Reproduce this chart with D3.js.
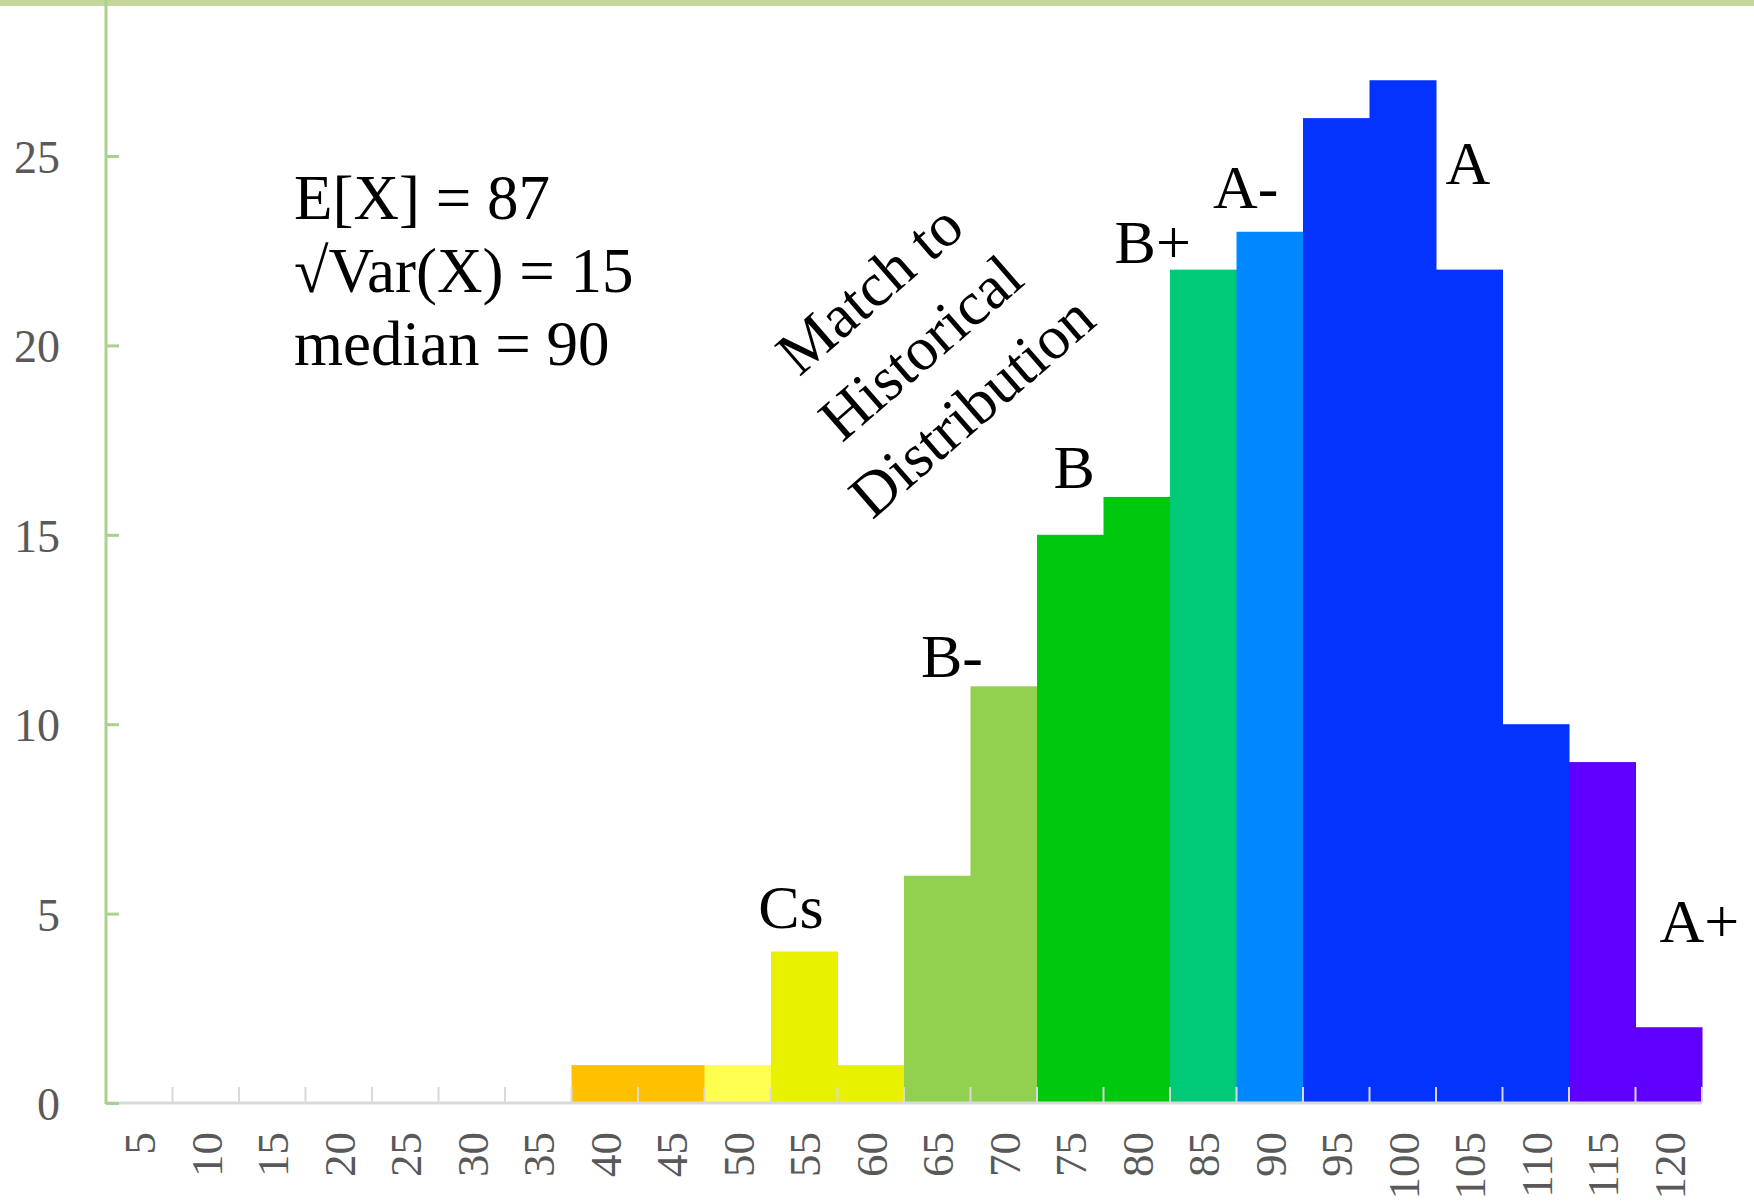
<!DOCTYPE html>
<html>
<head>
<meta charset="utf-8">
<script src="https://cdn.jsdelivr.net/npm/d3@7"></script>
<style>
  html, body { margin: 0; padding: 0; background: #fff; }
  svg { display: block; }
</style>
</head>
<body>
<svg id="chart" width="1754" height="1204"></svg>
<script>
// Score bins (upper edge of each 5-point bucket)
const bins = ["5","10","15","20","25","30","35","40","45","50","55","60",
              "65","70","75","80","85","90","95","100","105","110","115","120"];
// Number of students in each bin
const counts = [0,0,0,0,0,0,0,1,1,1,4,1,6,11,15,16,22,23,26,27,22,10,9,2];
// Fill colour for each bin, by letter grade
const barColors = ["#ffc000","#ffc000","#ffc000","#ffc000","#ffc000","#ffc000","#ffc000",
                   "#ffc000","#ffc000","#ffff50","#e8f200","#e8f200",
                   "#92d050","#92d050","#00c80f","#00c80f","#00c978","#0088ff",
                   "#0433ff","#0433ff","#0433ff","#0433ff","#5f00ff","#5f00ff"];
const yTicks = [0, 5, 10, 15, 20, 25];

// Letter-grade annotations: score position and count level of each label
const gradeText  = ["Cs", "B-", "B", "B+", "A-", "A", "A+"];
const gradeScore = [54.0, 66.1, 75.3, 81.2, 88.2, 104.9, 122.3];
const gradeLevel = [4.62, 11.25, 16.24, 22.18, 23.63, 24.27, 4.25];

const statLines = ["E[X] = 87", "\u221AVar(X) = 15", "median = 90"];
const noteLines = ["Match to", "Historical", "Distribution"];

const serif = "'Liberation Serif', 'Times New Roman', Times, serif";
const svg = d3.select("#chart");

const left = 106, right = 1702, bottom = 1103;

const x = d3.scaleBand().domain(bins).range([left, right]).padding(0);
const y = d3.scaleLinear().domain([0, 25]).range([bottom, 156]);
// Continuous score axis aligned with band centres (bin 5 -> centre of first band)
const xScore = d3.scaleLinear()
  .domain([5, 120])
  .range([x("5") + x.bandwidth() / 2, x("120") + x.bandwidth() / 2]);

// Top frame line
svg.append("line")
  .attr("x1", 0).attr("x2", 1754).attr("y1", 3).attr("y2", 3)
  .attr("stroke", "#c4d89c").attr("stroke-width", 6);

// Bars
svg.append("g").selectAll("rect")
  .data(bins.map((b, i) => ({ bin: b, count: counts[i], color: barColors[i] })))
  .join("rect")
  .attr("x", d => x(d.bin))
  .attr("y", d => y(d.count))
  .attr("width", x.bandwidth() + 0.5)
  .attr("height", d => y(0) - y(d.count))
  .attr("fill", d => d.color);

// X axis: baseline, boundary ticks and rotated labels
svg.append("line")
  .attr("x1", left).attr("x2", right).attr("y1", bottom).attr("y2", bottom)
  .attr("stroke", "#d9d9d9").attr("stroke-width", 3);

const boundaries = bins.map(b => x(b)).concat([x.range()[1]]);
svg.append("g").selectAll("line")
  .data(boundaries)
  .join("line")
  .attr("x1", d => d).attr("x2", d => d)
  .attr("y1", bottom - 16).attr("y2", bottom)
  .attr("stroke", "#d9d9d9").attr("stroke-width", 2);

const xAxis = svg.append("g")
  .attr("transform", `translate(0,${bottom})`)
  .call(d3.axisBottom(x).tickSize(0));
xAxis.select(".domain").remove();
xAxis.selectAll("text")
  .attr("x", 0).attr("y", 0)
  .attr("dy", "0.35em")
  .attr("transform", "translate(0,29) rotate(-90)")
  .attr("text-anchor", "end")
  .attr("fill", "#595959")
  .style("font-family", serif)
  .style("font-size", "45px");

// Y axis
const yAxis = svg.append("g")
  .attr("transform", `translate(${left},0)`)
  .call(d3.axisLeft(y).tickValues(yTicks).tickSizeInner(-13).tickSizeOuter(0).tickPadding(46));
yAxis.select(".domain").remove();
yAxis.selectAll(".tick line").attr("stroke", "#a9d18e").attr("stroke-width", 3);
yAxis.selectAll("text")
  .attr("dy", "0.36em")
  .attr("fill", "#595959")
  .style("font-family", serif)
  .style("font-size", "46px");
yAxis.append("line")
  .attr("x1", 0).attr("x2", 0).attr("y1", 0).attr("y2", bottom + 1)
  .attr("stroke", "#a9d18e").attr("stroke-width", 3);

// Summary statistics
svg.append("text")
  .attr("x", 294).attr("y", 219)
  .style("font-family", serif).style("font-size", "63px").attr("fill", "#000")
  .selectAll("tspan")
  .data(statLines)
  .join("tspan")
  .attr("x", 294)
  .attr("dy", (d, i) => i === 0 ? 0 : 73)
  .text(d => d);

// Diagonal note
const note = svg.append("g").attr("transform", "translate(920,347) rotate(-41)");
note.selectAll("text")
  .data(noteLines)
  .join("text")
  .attr("x", 0)
  .attr("y", (d, i) => (i - 1) * 78)
  .attr("dy", "0.35em")
  .attr("text-anchor", "middle")
  .style("font-family", serif).style("font-size", "62px")
  .text(d => d);

// Letter-grade labels
svg.append("g").selectAll("text")
  .data(gradeText.map((t, i) => ({ t, s: gradeScore[i], v: gradeLevel[i] })))
  .join("text")
  .attr("x", d => xScore(d.s))
  .attr("y", d => y(d.v))
  .attr("text-anchor", "middle")
  .style("font-family", serif).style("font-size", "62px")
  .text(d => d.t);
</script>
</body>
</html>
